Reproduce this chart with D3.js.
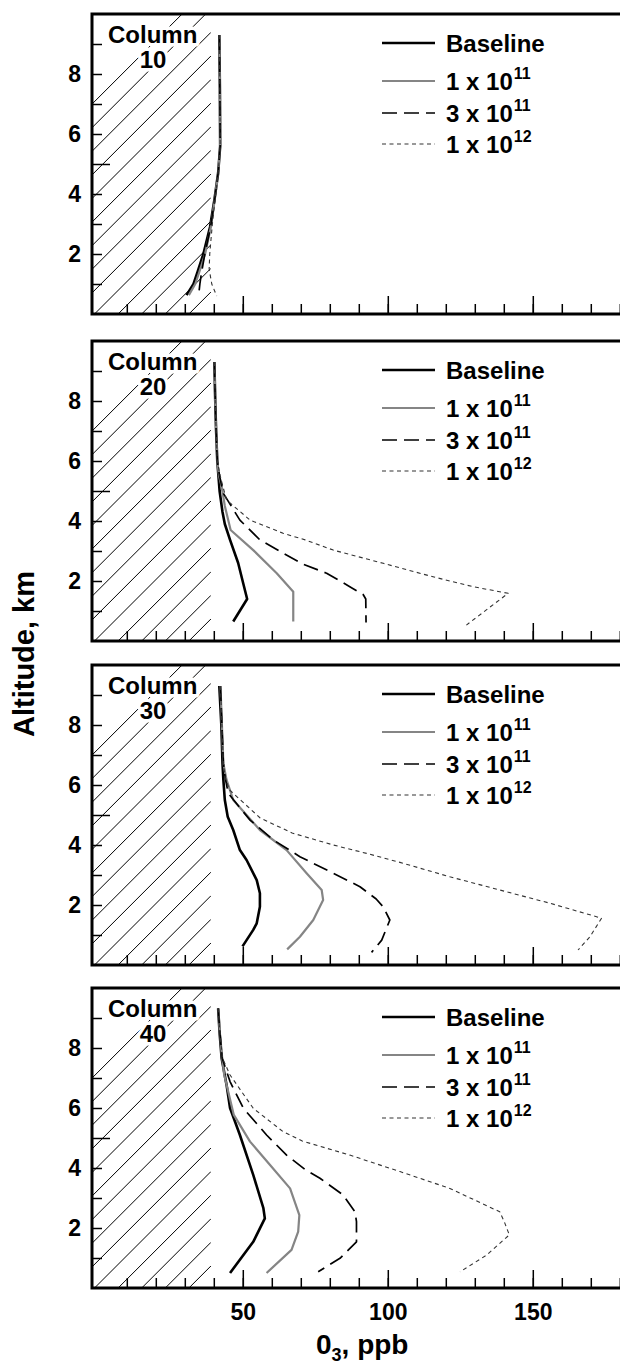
<html>
<head>
    <script src="https://cdn.jsdelivr.net/npm/d3@7"></script>
</head>
<body style="margin:0; background:#fff">
    <script type="text/javascript">
        // ---- data ----
        const columnNames = ["10", "20", "30", "40"];
        const seriesLabels = ["Baseline", "1 x 10", "3 x 10", "1 x 10"];
        const seriesExponents = ["", "11", "11", "12"];
        const xMinorTicks = d3.range(10, 190, 10);
        const xMajorTicks = [50, 100, 150];
        const yMinorTicks = [1, 2, 3, 4, 6, 7, 8, 9];
        const yLongTicks = [5];
        const yTickLabels = [2, 4, 6, 8];
        const hatchLimit = 39;   // ppb, shaded region

        // profiles as [altitude km, O3 ppb]
        const col10Baseline = [[9.3,41.9],[7.5,42.1],[5.6,42.2],[4.7,41.5],[3.8,40.2],[2.9,38.7],[2.0,36.4],[1.4,34.4],[1.0,33.0],[0.63,30.6]];
        const col10E11 = [[9.3,41.9],[7.5,42.1],[5.6,42.2],[4.7,41.5],[3.8,40.3],[2.9,39.0],[2.0,37.0],[1.4,35.0],[1.0,33.6],[0.63,31.4]];
        const col10E11x3 = [[9.3,41.9],[7.5,42.1],[5.6,42.2],[4.7,41.5],[3.8,40.3],[2.9,38.9],[2.0,36.9],[1.4,35.8],[1.0,35.2],[0.65,34.8]];
        const col10E12 = [[9.3,41.9],[7.5,42.1],[5.6,42.2],[4.7,41.5],[3.8,40.4],[3.0,39.5],[2.0,38.6],[1.5,38.4],[1.0,39.3],[0.6,41.0]];

        const col20Baseline = [[9.3,40.2],[8.0,40.5],[7.0,40.8],[6.0,41.2],[5.0,42.0],[4.3,43.0],[3.9,43.8],[3.37,45.6],[2.6,48.4],[1.9,50.2],[1.4,51.5],[0.65,46.7]];
        const col20E11 = [[9.3,40.2],[8.0,40.5],[7.0,40.8],[6.0,41.2],[5.5,41.8],[5.15,42.7],[4.5,43.8],[3.7,45.8],[3.03,53.6],[2.26,61.7],[1.64,67.4],[0.65,67.4]];
        const col20E11x3 = [[9.3,40.2],[8.0,40.5],[7.0,40.8],[6.0,41.2],[5.5,42.0],[4.92,43.3],[4.03,49.0],[3.37,55.9],[2.93,63.9],[2.55,71.0],[2.26,78.9],[1.81,86.9],[1.55,91.5],[1.4,92.4],[0.62,92.5]];
        const col20E12 = [[9.3,40.2],[8.0,40.5],[7.0,40.8],[6.0,41.2],[5.5,42.2],[5.2,43.0],[4.7,44.4],[4.03,52.5],[3.59,63.9],[3.37,71.5],[3.03,81.2],[2.59,98.4],[2.14,115.6],[1.81,129.4],[1.59,141.5],[0.53,127.1]];

        const col30Baseline = [[9.3,41.9],[8.0,42.6],[6.72,43.0],[6.17,43.3],[5.5,43.8],[4.94,44.8],[4.5,46.7],[3.83,49.0],[3.5,51.3],[2.83,54.8],[2.39,55.9],[1.94,55.9],[1.39,54.8],[1.17,53.6],[0.62,49.9]];
        const col30E11 = [[9.3,42.3],[8.0,42.8],[6.72,43.3],[6.17,44.4],[5.5,46.7],[4.5,55.9],[3.83,65.1],[3.06,72.0],[2.5,77.2],[2.17,77.7],[1.5,74.3],[0.94,69.7],[0.52,65.3]];
        const col30E11x3 = [[9.3,42.3],[8.0,42.8],[6.72,43.3],[6.2,44.0],[5.72,45.0],[4.83,52.5],[4.17,60.5],[3.61,69.7],[3.06,81.2],[2.61,90.4],[2.2,96.0],[1.94,98.4],[1.5,100.7],[0.83,97.9],[0.42,94.4]];
        const col30E12 = [[9.3,42.3],[8.0,42.8],[6.72,43.3],[6.2,44.0],[5.83,45.5],[4.9,56.0],[4.4,67.0],[4.0,81.2],[3.72,92.7],[3.42,104.2],[2.94,121.4],[2.5,138.6],[2.06,155.9],[1.56,173.7],[0.94,169.7],[0.5,165.6]];

        const col40Baseline = [[9.32,41.5],[8.5,42.0],[7.66,42.7],[6.77,44.4],[6.0,45.6],[5.1,49.0],[3.77,53.6],[2.66,57.1],[2.32,57.6],[1.54,53.6],[0.5,45.6]];
        const col40E11 = [[9.32,41.5],[8.5,42.1],[7.66,42.9],[7.1,43.6],[5.77,46.9],[4.88,52.5],[4.1,59.4],[3.32,66.3],[2.43,69.5],[1.88,69.1],[1.27,66.8],[0.5,58.2]];
        const col40E11x3 = [[9.32,41.5],[8.5,42.1],[7.66,42.9],[6.88,45.6],[5.99,50.2],[5.1,58.2],[4.43,65.1],[3.95,71.5],[3.66,76.6],[3.1,84.6],[2.54,88.7],[2.21,89.2],[1.54,89.2],[0.99,83.5],[0.54,76.0]];
        const col40E12 = [[9.32,41.5],[8.5,42.1],[7.66,43.0],[7.1,45.6],[5.99,53.6],[5.21,63.9],[4.9,70.5],[4.43,86.9],[3.88,104.2],[3.32,121.4],[2.54,138.6],[2.2,140.2],[1.77,141.9],[1.1,134.1],[0.54,124.9]];

        const panels = [
            [col10Baseline, col10E11, col10E11x3, col10E12],
            [col20Baseline, col20E11, col20E11x3, col20E12],
            [col30Baseline, col30E11, col30E11x3, col30E12],
            [col40Baseline, col40E11, col40E11x3, col40E12]
        ];

        // ---- layout ----
        const width = 620;
        const height = 1367;
        const panelTops = [14, 341, 665, 988];
        const panelHeight = 300;
        const font = "'Liberation Sans', Arial, Helvetica, sans-serif";

        const lineStyles = [
            { stroke: "#000", width: 2.6, dash: null },
            { stroke: "#858585", width: 2.2, dash: null },
            { stroke: "#000", width: 1.7, dash: "15,7" },
            { stroke: "#333", width: 1.1, dash: "4,3.5" }
        ];

        const svg = d3.select("body").append("svg")
            .attr("width", width)
            .attr("height", height)
            .style("font-family", font)
            .style("font-weight", "bold");

        svg.append("rect").attr("width", width).attr("height", height).attr("fill", "#fff");

        const x = d3.scaleLinear().domain([-2, 181]).range([92, 622.7]);
        const y = d3.scaleLinear().domain([0, 10]).range([panelHeight, 0]);

        const line = d3.line()
            .x(d => x(d[1]))
            .y(d => y(d[0]));

        panels.forEach((series, i) => {
            const g = svg.append("g").attr("transform", `translate(0,${panelTops[i]})`);

            // hatched region
            const clipId = "hatch-clip-" + i;
            g.append("clipPath").attr("id", clipId)
                .append("rect")
                .attr("x", x.range()[0])
                .attr("y", 0)
                .attr("width", x(hatchLimit) - x.range()[0])
                .attr("height", panelHeight);
            const hatch = g.append("g").attr("clip-path", `url(#${clipId})`);
            const xR = x(hatchLimit);
            d3.range(-3, 18).forEach(k => {
                const yEnd = 42 + 23.6 * k;
                hatch.append("line")
                    .attr("x1", xR).attr("y1", yEnd)
                    .attr("x2", xR - 220).attr("y2", yEnd + 220)
                    .attr("stroke", "#000")
                    .attr("stroke-width", 1);
            });

            // profiles
            series.forEach((data, s) => {
                const st = lineStyles[s];
                g.append("path")
                    .datum(data)
                    .attr("d", line)
                    .attr("fill", "none")
                    .attr("stroke", st.stroke)
                    .attr("stroke-width", st.width)
                    .attr("stroke-dasharray", st.dash)
                    .attr("stroke-linejoin", "round");
            });

            // inward ticks
            const tickStyle = sel => {
                sel.select(".domain").remove();
                sel.selectAll(".tick line").attr("stroke", "#000").attr("stroke-width", 1.5);
                sel.selectAll(".tick text")
                    .attr("fill", "#000")
                    .style("font-family", font)
                    .style("font-weight", "bold")
                    .style("font-size", "23px");
            };

            g.append("g")
                .attr("transform", `translate(0,${panelHeight})`)
                .call(d3.axisBottom(x).tickValues(xMinorTicks).tickSize(-10).tickSizeOuter(0).tickFormat(""))
                .call(tickStyle);

            const isLast = i === panels.length - 1;
            g.append("g")
                .attr("transform", `translate(0,${panelHeight})`)
                .call(d3.axisBottom(x).tickValues(xMajorTicks).tickSize(-18).tickSizeOuter(0)
                    .tickPadding(16).tickFormat(isLast ? d3.format("d") : ""))
                .call(tickStyle);

            g.append("g")
                .attr("transform", `translate(${x.range()[0]},0)`)
                .call(d3.axisLeft(y).tickValues(yMinorTicks).tickSize(-10).tickSizeOuter(0).tickFormat(""))
                .call(tickStyle);

            g.append("g")
                .attr("transform", `translate(${x.range()[0]},0)`)
                .call(d3.axisLeft(y).tickValues(yLongTicks).tickSize(-18).tickSizeOuter(0).tickFormat(""))
                .call(tickStyle);

            g.append("g")
                .attr("transform", `translate(${x.range()[0]},0)`)
                .call(d3.axisLeft(y).tickValues(yTickLabels).tickSize(0).tickPadding(11).tickFormat(d3.format("d")))
                .call(tickStyle);

            // frame
            g.append("rect")
                .attr("x", x.range()[0])
                .attr("y", 0)
                .attr("width", x.range()[1] - x.range()[0])
                .attr("height", panelHeight)
                .attr("fill", "none")
                .attr("stroke", "#000")
                .attr("stroke-width", 3);

            // column label with white halo over the hatching
            const label = g.append("text")
                .attr("font-size", 24)
                .attr("fill", "#000")
                .attr("stroke", "#fff")
                .attr("stroke-width", 7)
                .attr("paint-order", "stroke")
                .attr("stroke-linejoin", "round");
            label.append("tspan").attr("x", 108).attr("y", 29).text("Column");
            label.append("tspan").attr("x", 153).attr("y", 54).attr("text-anchor", "middle").text(columnNames[i]);

            // legend
            const legendY = [29, 67, 99, 130];
            seriesLabels.forEach((name, s) => {
                const st = lineStyles[s];
                const ly = legendY[s];
                g.append("line")
                    .attr("x1", 382).attr("x2", 435)
                    .attr("y1", ly).attr("y2", ly)
                    .attr("stroke", st.stroke)
                    .attr("stroke-width", st.width)
                    .attr("stroke-dasharray", st.dash);
                const t = g.append("text")
                    .attr("x", 446)
                    .attr("y", ly + 8.5)
                    .attr("font-size", 24)
                    .attr("fill", "#000")
                    .text(name);
                if (seriesExponents[s]) {
                    t.append("tspan")
                        .attr("dy", -11)
                        .attr("dx", 1)
                        .attr("font-size", 16)
                        .text(seriesExponents[s]);
                }
            });
        });

        // axis titles
        svg.append("text")
            .attr("transform", `translate(34,654) rotate(-90)`)
            .attr("text-anchor", "middle")
            .attr("font-size", 29)
            .attr("fill", "#000")
            .text("Altitude, km");

        const xt = svg.append("text")
            .attr("x", 316)
            .attr("y", 1354)
            .attr("font-size", 28)
            .attr("fill", "#000");
        xt.append("tspan").text("0");
        xt.append("tspan").attr("dy", 7).attr("font-size", 18).text("3");
        xt.append("tspan").attr("dy", -7).text(", ppb");
    </script>
</body>
</html>
